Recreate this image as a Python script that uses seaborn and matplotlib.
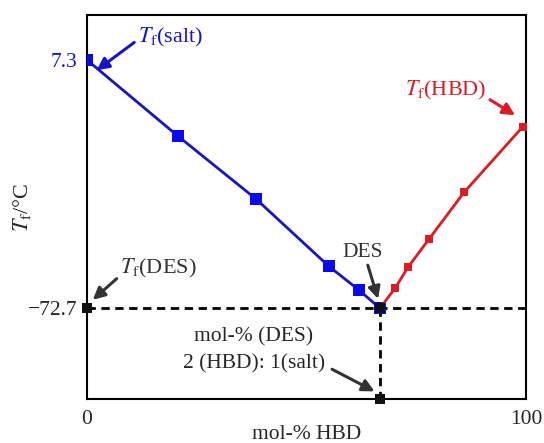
import pandas as pd
import matplotlib.pyplot as plt
import seaborn as sns

# data
salt_x = [0, 20.7, 38.5, 55.1, 62.0, 66.7]
salt_y = [7.3, -17.2, -37.5, -59.2, -66.9, -72.7]
hbd_x = [66.7, 70.2, 73.1, 77.9, 85.9, 99.2]
hbd_y = [-72.7, -66.2, -59.5, -50.4, -35.3, -14.3]
des_x = 66.7
des_y = -72.7
x_ticks = [0, 100]
y_ticks = [7.3, -72.7]

sns.set_style('white')
plt.rcParams['font.family'] = ['Liberation Serif', 'DejaVu Serif']
plt.rcParams['mathtext.fontset'] = 'stix'

blue = '#1414cc'
red = '#e01a22'
dark = '#333333'
fs = 15.5

salt = pd.DataFrame({'x': salt_x, 'y': salt_y})
hbd = pd.DataFrame({'x': hbd_x, 'y': hbd_y})
pts = pd.DataFrame({'x': [0, des_x, des_x], 'y': [des_y, des_y, -102]})

fig, ax = plt.subplots(figsize=(5.44, 4.43), dpi=100)
fig.subplots_adjust(left=0.16, right=0.967, top=0.966, bottom=0.099)

# dashed guides through the eutectic point
ax.axhline(des_y, color='black', ls=(0, (3, 2)), lw=2, zorder=1)
ax.plot([des_x, des_x], [des_y, -102], color='black', ls=(0, (3, 2)), lw=2, zorder=1)

sns.lineplot(data=salt, x='x', y='y', ax=ax, color=blue, lw=2, marker='s',
             markersize=8, markeredgewidth=0, markerfacecolor='#0a0aee', zorder=3)
sns.lineplot(data=hbd, x='x', y='y', ax=ax, color=red, lw=2, marker='s',
             markersize=6, markeredgewidth=0, zorder=3)
sns.scatterplot(data=pts, x='x', y='y', ax=ax, color='#111111', marker='s',
                s=60, linewidth=0, zorder=4, clip_on=False)

ax.set_xlim(0, 100)
ax.set_ylim(-102, 21.8)
ax.set_xticks(x_ticks)
ax.set_xticklabels(['0', '100'])
ax.set_yticks(y_ticks)
ax.set_yticklabels(['7.3', '\u221272.7'])
ax.get_yticklabels()[0].set_color(blue)
ax.tick_params(axis='y', length=0, labelsize=fs, pad=7)
ax.tick_params(axis='x', length=0, labelsize=fs, pad=8)
for s in ax.spines.values():
    s.set_color('black')
    s.set_linewidth(1.5)

ax.set_xlabel('mol-% HBD', fontsize=fs, labelpad=-3)
ax.set_ylabel(r'$T_\mathrm{f}$/°C', fontsize=16, labelpad=-4)

arrow = dict(arrowstyle='-|>', lw=2.2, mutation_scale=18, shrinkA=0, shrinkB=0)
ax.annotate(r'$T_\mathrm{f}$(salt)', xy=(2.2, 4.0), xytext=(11.5, 14.5),
            color=blue, fontsize=16, va='center',
            arrowprops=dict(arrow, color=blue, relpos=(0, 0.4)))
ax.annotate(r'$T_\mathrm{f}$(HBD)', xy=(97.5, -10.5), xytext=(72.5, -2.6),
            color=red, fontsize=16, va='center',
            arrowprops=dict(arrow, color=red, relpos=(1, 0.2)))
ax.annotate(r'$T_\mathrm{f}$(DES)', xy=(1.3, -70), xytext=(7.5, -60),
            color=dark, fontsize=16, va='center',
            arrowprops=dict(arrow, color=dark, relpos=(0, 0.2)))
ax.annotate('DES', xy=(66.3, -69.7), xytext=(62.8, -54.7),
            color=dark, fontsize=fs, ha='center', va='center',
            arrowprops=dict(arrow, color=dark, relpos=(0.6, 0)))
ax.text(38, -82, 'mol-% (DES)', fontsize=fs, ha='center', va='center')
ax.annotate('2 (HBD): 1(salt)', xy=(65.5, -99.5), xytext=(38, -90.5),
            fontsize=fs, ha='center', va='center',
            arrowprops=dict(arrow, color=dark, relpos=(1.05, 0.2)))

plt.savefig('out.png', dpi=100)
